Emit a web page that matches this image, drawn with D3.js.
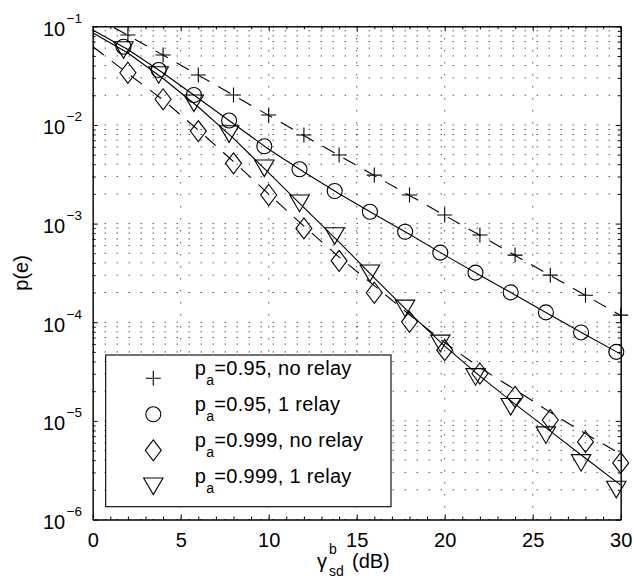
<!DOCTYPE html>
<html>
<head>
<meta charset="utf-8">
<script src="https://cdn.jsdelivr.net/npm/d3@7"></script>
<style>
  html, body { margin: 0; padding: 0; background: #fff; overflow: hidden; }
  svg { display: block; }
  svg text { font-family: "Liberation Sans", Arial, Helvetica, sans-serif; fill: #000; }
</style>
</head>
<body>
<svg id="chart"></svg>
<script>
// SNR axis (dB): theory curves on even dB, simulated points
const snrTheory = [0, 2, 4, 6, 8, 10, 12, 14, 16, 18, 20, 22, 24, 26, 28, 30];
const snrDirect = [2, 4, 6, 8, 10, 12, 14, 16, 18, 20, 22, 24, 26, 28, 30];
const snrRelay = [1.75, 3.75, 5.75, 7.75, 9.75, 11.75, 13.75, 15.75, 17.75, 19.75, 21.75, 23.75, 25.75, 27.75, 29.75];

// p_a = 0.95, no relay
const theory95NoRelay = [1.27e-1, 8.1e-2, 5.1e-2, 3.2e-2, 2.0e-2, 1.25e-2, 7.8e-3, 4.9e-3, 3.07e-3, 1.93e-3, 1.21e-3, 7.6e-4, 4.75e-4, 2.98e-4, 1.87e-4, 1.17e-4];
const sim95NoRelay = [8.16e-2, 5.12e-2, 3.21e-2, 2.01e-2, 1.26e-2, 7.9e-3, 4.95e-3, 3.1e-3, 1.95e-3, 1.22e-3, 7.65e-4, 4.79e-4, 3.0e-4, 1.88e-4, 1.18e-4];

// p_a = 0.95, 1 relay
const theory95Relay = [9.17e-2, 5.82e-2, 3.36e-2, 1.866e-2, 1.028e-2, 5.67e-3, 3.33e-3, 2.01e-3, 1.243e-3, 7.79e-4, 4.79e-4, 3.0e-4, 1.891e-4, 1.186e-4, 7.45e-5, 4.75e-5];
const sim95Relay = [6.21e-2, 3.6e-2, 2.01e-2, 1.108e-2, 6.08e-3, 3.55e-3, 2.14e-3, 1.317e-3, 8.26e-4, 5.08e-4, 3.18e-4, 2.005e-4, 1.257e-4, 7.88e-5, 5.01e-5];

// p_a = 0.999, no relay
const theory999NoRelay = [6.24e-2, 3.32e-2, 1.79e-2, 8.88e-3, 4.25e-3, 1.99e-3, 9.43e-4, 4.57e-4, 2.35e-4, 1.19e-4, 6.21e-5, 3.46e-5, 2.07e-5, 1.22e-5, 7.42e-6, 4.6e-6];
const sim999NoRelay = [3.38e-2, 1.82e-2, 8.67e-3, 4.08e-3, 1.95e-3, 8.94e-4, 4.19e-4, 1.99e-4, 1.01e-4, 5.21e-5, 3.02e-5, 1.75e-5, 1.02e-5, 6.12e-6, 3.75e-6];

// p_a = 0.999, 1 relay
const theory999Relay = [8.61e-2, 5.36e-2, 2.96e-2, 1.519e-2, 7.31e-3, 3.27e-3, 1.453e-3, 6.49e-4, 2.82e-4, 1.245e-4, 5.72e-5, 2.84e-5, 1.477e-5, 7.86e-6, 4.18e-6, 2.23e-6];
const sim999Relay = [5.75e-2, 3.21e-2, 1.656e-2, 8.09e-3, 3.63e-3, 1.603e-3, 7.47e-4, 3.13e-4, 1.38e-4, 6.1e-5, 2.79e-5, 1.387e-5, 7.16e-6, 3.75e-6, 2.01e-6];

const xTicks = [0, 5, 10, 15, 20, 25, 30];
const xMinorTicks = [1, 2, 3, 4, 6, 7, 8, 9, 11, 12, 13, 14, 16, 17, 18, 19, 21, 22, 23, 24, 26, 27, 28, 29];
const yTicks = [1e-6, 1e-5, 1e-4, 1e-3, 1e-2, 1e-1];
const yTickExponents = ["\u22126", "\u22125", "\u22124", "\u22123", "\u22122", "\u22121"];
const legendValues = ["=0.95, no relay", "=0.95, 1 relay", "=0.999, no relay", "=0.999, 1 relay"];

const width = 634;
const height = 581;
const margin = { top: 26.3, right: 13.3, bottom: 61.5, left: 92.7 };
const innerWidth = width - margin.left - margin.right;
const innerHeight = height - margin.top - margin.bottom;

const markerPaths = {
  plus: "M-7.5,0H7.5M0,-7.5V7.5",
  circle: "M7.5,0A7.5,7.5 0 1,1 -7.5,0A7.5,7.5 0 1,1 7.5,0",
  diamond: "M0,-10.5L8,0L0,10.5L-8,0Z",
  triangle: "M-9.7,-8.3L9.7,-8.3L0,8.3Z"
};

const series = [
  { theory: theory95NoRelay, sim: sim95NoRelay, xs: snrDirect, dashed: true, marker: "plus" },
  { theory: theory95Relay, sim: sim95Relay, xs: snrRelay, dashed: false, marker: "circle" },
  { theory: theory999NoRelay, sim: sim999NoRelay, xs: snrDirect, dashed: true, marker: "diamond" },
  { theory: theory999Relay, sim: sim999Relay, xs: snrRelay, dashed: false, marker: "triangle" }
];

const svg = d3.select("#chart").attr("width", width).attr("height", height);

svg.append("defs").append("clipPath").attr("id", "plot-clip")
  .append("rect").attr("width", innerWidth).attr("height", innerHeight);

const chart = svg.append("g").attr("transform", `translate(${margin.left},${margin.top})`);

const xScale = d3.scaleLinear().domain([0, 30]).range([0, innerWidth]);
const yScale = d3.scaleLog().domain([1e-6, 1e-1]).range([innerHeight, 0]);

// dotted grid (major x, major + minor log y)
const grid = chart.append("g").attr("stroke", "#000").attr("stroke-width", 1).attr("stroke-dasharray", "1,11");
grid.selectAll(".hgrid").data(yScale.ticks()).join("line").attr("class", "hgrid")
  .attr("x1", 0).attr("x2", innerWidth)
  .attr("y1", d => yScale(d)).attr("y2", d => yScale(d));
grid.selectAll(".vgrid").data(xTicks.slice(1, -1)).join("line").attr("class", "vgrid")
  .attr("y1", 0).attr("y2", innerHeight)
  .attr("x1", d => xScale(d)).attr("x2", d => xScale(d));

// axes on all four sides, ticks pointing inward
const minorY = yScale.ticks().filter(d => !yTicks.some(t => Math.abs(t - d) / t < 1e-9));

chart.append("g").attr("transform", `translate(0,${innerHeight})`)
  .call(d3.axisBottom(xScale).tickValues(xTicks).tickSizeInner(-5).tickSizeOuter(0).tickPadding(13))
  .call(g => g.selectAll("text").attr("font-size", 20).attr("font-family", null));
chart.append("g").attr("transform", `translate(0,${innerHeight})`)
  .call(d3.axisBottom(xScale).tickValues(xMinorTicks).tickSizeInner(-3).tickSizeOuter(0).tickFormat(""));
chart.append("g")
  .call(d3.axisTop(xScale).tickValues(xTicks).tickSizeInner(-5).tickSizeOuter(0).tickFormat(""));
chart.append("g")
  .call(d3.axisTop(xScale).tickValues(xMinorTicks).tickSizeInner(-3).tickSizeOuter(0).tickFormat(""));
chart.append("g")
  .call(d3.axisLeft(yScale).tickValues(yTicks).tickSizeInner(-5).tickSizeOuter(0).tickFormat(""));
chart.append("g")
  .call(d3.axisLeft(yScale).tickValues(minorY).tickSizeInner(-3).tickSizeOuter(0).tickFormat(""));
chart.append("g").attr("transform", `translate(${innerWidth},0)`)
  .call(d3.axisRight(yScale).tickValues(yTicks).tickSizeInner(-5).tickSizeOuter(0).tickFormat(""));
chart.append("g").attr("transform", `translate(${innerWidth},0)`)
  .call(d3.axisRight(yScale).tickValues(minorY).tickSizeInner(-3).tickSizeOuter(0).tickFormat(""));

// y tick labels 10^k
const yLabels = chart.append("g");
yTicks.forEach((t, i) => {
  yLabels.append("text").attr("x", -27.5).attr("y", yScale(t) + 9.5)
    .attr("text-anchor", "end").attr("font-size", 20).text("10");
  yLabels.append("text").attr("x", -26).attr("y", yScale(t) - 3.5)
    .attr("font-size", 13.5).text(yTickExponents[i]);
});

// curves
const line = d3.line().x(d => xScale(d[0])).y(d => yScale(d[1]));
const curves = chart.append("g").attr("clip-path", "url(#plot-clip)");
series.forEach(s => {
  curves.append("path")
    .datum(snrTheory.map((x, i) => [x, s.theory[i]]))
    .attr("d", line).attr("fill", "none").attr("stroke", "#000").attr("stroke-width", 1.1)
    .attr("stroke-dasharray", s.dashed ? "14,10" : null);
});

series.forEach(s => {
  chart.append("g").selectAll("path")
    .data(s.xs.map((x, i) => [x, s.sim[i]]))
    .join("path")
    .attr("transform", d => `translate(${xScale(d[0])},${yScale(d[1])})`)
    .attr("d", markerPaths[s.marker])
    .attr("fill", "none").attr("stroke", "#000").attr("stroke-width", 1.1);
});

// legend
const legend = chart.append("g").attr("transform", `translate(${105.7 - margin.left},${355 - margin.top})`);
legend.append("rect").attr("width", 285.3).attr("height", 151.7)
  .attr("fill", "#fff").attr("stroke", "#000").attr("stroke-width", 1.1);
series.forEach((s, i) => {
  const row = legend.append("g").attr("transform", `translate(0,${23.3 + i * 36})`);
  row.append("path").attr("transform", "translate(47.6,0)").attr("d", markerPaths[s.marker])
    .attr("fill", "none").attr("stroke", "#000").attr("stroke-width", 1.1);
  const txt = row.append("text").attr("x", 89).attr("y", -3).attr("font-size", 20).attr("letter-spacing", 0.3);
  txt.append("tspan").text("p");
  txt.append("tspan").attr("font-size", 14).attr("dy", 10).text("a");
  txt.append("tspan").attr("dy", -10).text(legendValues[i]);
});

// axis titles
svg.append("text").attr("transform", `translate(28,${margin.top + innerHeight / 2}) rotate(-90)`)
  .attr("text-anchor", "middle").attr("font-size", 20).text("p(e)");

const xTitle = svg.append("g");
xTitle.append("text").attr("x", 317).attr("y", 568).attr("font-size", 20).text("\u03b3");
xTitle.append("text").attr("x", 329).attr("y", 554).attr("font-size", 14).text("b");
xTitle.append("text").attr("x", 329).attr("y", 576).attr("font-size", 14).text("sd");
xTitle.append("text").attr("x", 352).attr("y", 568).attr("font-size", 20).text("(dB)");
</script>
</body>
</html>
